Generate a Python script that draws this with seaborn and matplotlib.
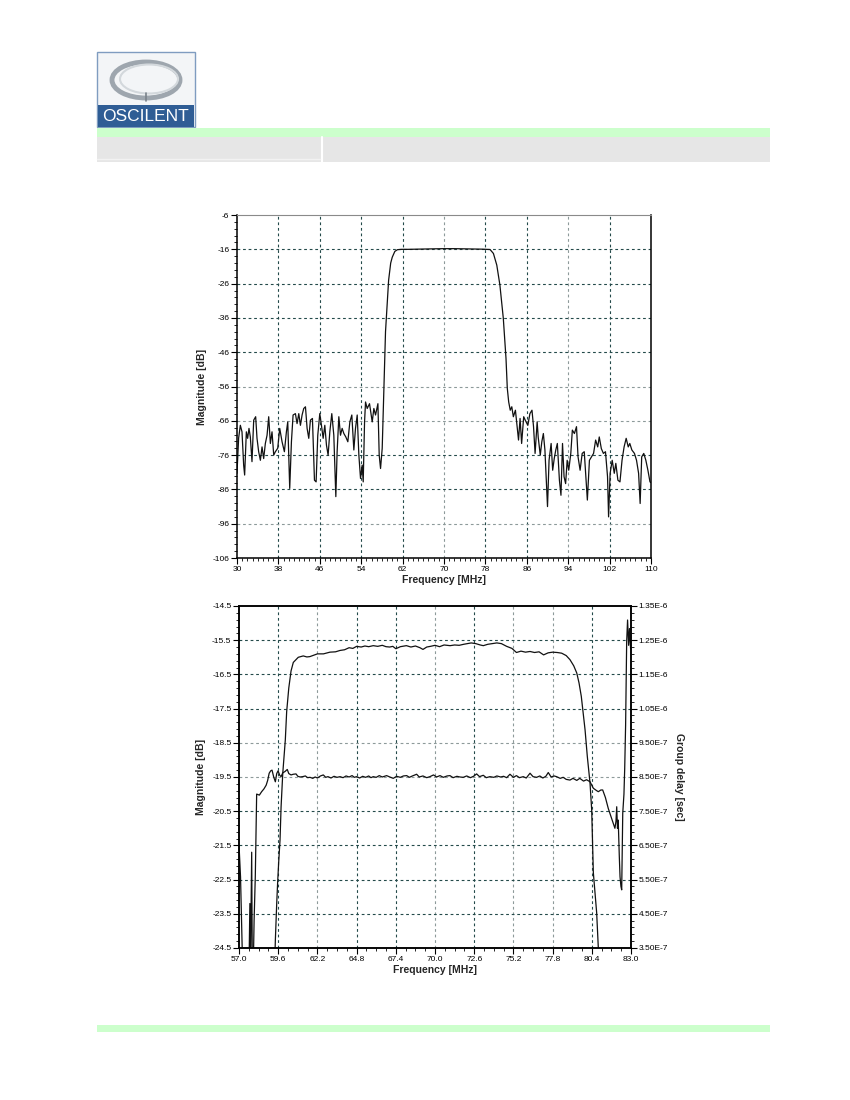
import matplotlib
matplotlib.use("Agg")
import matplotlib.pyplot as plt
import seaborn as sns
from matplotlib.patches import Rectangle, Ellipse
from matplotlib.ticker import AutoMinorLocator, FixedLocator

# ---- wideband response (upper chart) ----
wide_freq = [30.0, 30.32, 30.65, 30.97, 31.29, 31.48, 31.81, 32.06, 32.32, 32.58,
             32.9, 33.23, 33.61, 33.87, 34.19, 34.52, 34.84, 35.16, 35.48, 35.81,
             36.13, 36.45, 36.77, 37.1, 37.42, 37.87, 38.26, 38.71, 39.16, 39.55,
             39.81, 40.19, 40.52, 40.84, 41.29, 41.61, 41.94, 42.26, 42.58, 42.9,
             43.23, 43.55, 43.87, 44.19, 44.58, 44.97, 45.29, 45.61, 46.0, 46.32,
             46.65, 46.97, 47.29, 47.61, 47.94, 48.32, 48.71, 49.1, 49.35, 49.68,
             50.0, 50.32, 50.65, 51.03, 51.42, 51.81, 52.19, 52.58, 52.9, 53.23,
             53.55, 53.87, 54.19, 54.39, 54.65, 54.84, 55.16, 55.61, 56.13, 56.45,
             56.77, 57.23, 57.48, 57.74, 58.06, 58.39, 58.7, 59.3, 59.7, 60.0,
             60.5, 61.0, 61.8, 63.0, 64.5, 66.0, 68.0, 70.0, 72.0, 74.0,
             76.0, 77.5, 78.9, 79.55, 80.2, 80.8, 81.46, 81.98, 82.23, 82.5,
             82.8, 83.1, 83.4, 83.8, 84.1, 84.4, 84.7, 85.0, 85.4, 85.7,
             86.2, 86.6, 87.0, 87.3, 87.6, 88.0, 88.2, 88.6, 88.9, 89.2,
             89.5, 90.0, 90.3, 90.7, 91.0, 91.3, 91.6, 91.9, 92.3, 92.6,
             92.9, 93.2, 93.5, 93.8, 94.1, 94.5, 94.8, 95.2, 95.6, 95.9,
             96.3, 96.7, 97.1, 97.4, 97.7, 98.1, 98.5, 98.9, 99.3, 99.7,
             100.0, 100.4, 100.8, 101.2, 101.6, 101.8, 102.1, 102.5, 102.9, 103.2,
             103.6, 104.0, 104.4, 104.8, 105.2, 105.6, 105.9, 106.3, 106.8, 107.2,
             107.6, 107.9, 108.2, 108.6, 109.0, 109.4, 109.8, 110.0]
wide_mag = [-81.3, -71.0, -67.3, -69.2, -78.9, -81.8, -69.2, -71.1, -68.2, -70.7,
            -77.9, -65.8, -64.8, -71.1, -75.0, -77.5, -73.6, -77.0, -72.6, -70.2,
            -64.8, -72.6, -69.2, -76.0, -75.0, -74.0, -68.2, -72.1, -75.0, -69.2,
            -66.3, -85.7, -72.1, -64.3, -63.9, -66.8, -63.9, -67.3, -64.3, -62.4,
            -61.9, -68.2, -71.1, -65.8, -65.3, -83.3, -83.8, -70.2, -63.9, -67.3,
            -71.1, -67.3, -73.1, -76.0, -69.2, -63.9, -70.2, -88.1, -75.0, -64.8,
            -70.2, -68.2, -69.7, -70.7, -72.1, -66.3, -64.3, -74.5, -68.2, -64.3,
            -76.0, -82.8, -78.9, -83.8, -66.3, -60.5, -62.4, -61.0, -66.3, -62.4,
            -64.3, -61.0, -76.0, -79.9, -74.0, -57.0, -40.0, -25.0, -20.0, -18.3,
            -16.6, -16.1, -16.0, -16.0, -15.95, -15.9, -15.85, -15.8, -15.8, -15.85,
            -15.9, -15.95, -16.05, -17.2, -20.6, -26.4, -36.1, -47.8, -56.5, -60.5,
            -62.9, -61.9, -64.8, -62.9, -67.3, -71.6, -65.3, -72.6, -64.8, -65.8,
            -67.3, -63.9, -62.9, -67.7, -75.5, -66.3, -70.7, -76.0, -72.1, -69.7,
            -74.5, -91.0, -77.5, -72.6, -80.4, -77.0, -74.5, -72.6, -83.3, -87.7,
            -72.6, -82.3, -84.3, -77.5, -80.4, -75.5, -68.7, -69.7, -67.7, -76.5,
            -80.4, -75.5, -75.0, -82.3, -89.1, -77.5, -76.5, -75.5, -71.6, -73.6,
            -70.7, -74.1, -75.5, -75.0, -82.3, -94.0, -81.3, -77.5, -81.3, -78.4,
            -83.3, -83.8, -77.5, -73.6, -71.1, -73.6, -72.6, -74.5, -75.5, -77.5,
            -81.3, -90.1, -76.5, -75.5, -77.5, -80.4, -83.8, -84.0]
wide_xticks = [30, 38, 46, 54, 62, 70, 78, 86, 94, 102, 110]
wide_yticks = [-6, -16, -26, -36, -46, -56, -66, -76, -86, -96, -106]

# ---- passband detail (lower chart) ----
pb_freq = [57.0, 59.3, 59.41, 59.5, 59.56, 59.63, 59.72, 59.79, 59.9, 60.07,
           60.16, 60.3, 60.45, 60.6, 60.93, 61.26, 61.5, 61.7, 61.95, 62.2,
           62.6, 63.03, 63.4, 63.7, 64.0, 64.3, 64.55, 64.8, 65.1, 65.35,
           65.6, 65.9, 66.2, 66.5, 66.75, 67.0, 67.2, 67.4, 67.7, 68.1,
           68.4, 68.7, 69.0, 69.2, 69.45, 69.7, 70.0, 70.3, 70.6, 71.0,
           71.3, 71.6, 71.9, 72.15, 72.4, 72.7, 73.0, 73.2, 73.5, 73.8,
           74.1, 74.4, 74.75, 75.1, 75.4, 75.7, 76.0, 76.3, 76.6, 76.9,
           77.2, 77.5, 77.8, 78.1, 78.4, 78.7, 78.95, 79.2, 79.4, 79.55,
           79.7, 79.95, 80.1, 80.28, 80.39, 80.5, 80.72, 80.83, 80.9, 83.0]
pb_mag = [-26.0, -26.0, -24.27, -23.2, -22.6, -22.0, -21.34, -20.37, -19.4, -18.42,
          -17.59, -16.9, -16.4, -16.15, -16.0, -15.96, -15.99, -15.98, -15.94, -15.9,
          -15.9, -15.85, -15.84, -15.8, -15.78, -15.72, -15.74, -15.68, -15.7, -15.67,
          -15.69, -15.66, -15.68, -15.65, -15.69, -15.7, -15.68, -15.75, -15.69, -15.66,
          -15.7, -15.67, -15.72, -15.77, -15.7, -15.68, -15.65, -15.69, -15.64, -15.66,
          -15.64, -15.65, -15.62, -15.6, -15.58, -15.6, -15.64, -15.66, -15.62, -15.6,
          -15.58, -15.6, -15.68, -15.74, -15.86, -15.82, -15.85, -15.83, -15.86, -15.84,
          -15.93, -15.87, -15.85, -15.86, -15.88, -15.95, -16.07, -16.25, -16.46, -16.75,
          -17.14, -18.12, -18.9, -19.68, -20.46, -22.3, -23.47, -24.5, -26.0, -26.0]

gd_freq = [57.0, 57.1, 57.22, 57.3, 57.65, 57.72, 57.76, 57.84, 57.88, 57.96,
           58.0, 58.08, 58.17, 58.35, 58.5, 58.65, 58.8, 58.9, 59.0, 59.1,
           59.19, 59.3, 59.41, 59.5, 59.59, 59.7, 59.79, 59.9, 60.05, 60.2,
           60.3, 60.45, 60.6, 60.78, 60.9, 61.05, 61.22, 61.4, 61.55, 61.71,
           61.89, 62.05, 62.2, 62.4, 62.59, 62.75, 62.9, 63.1, 63.3, 63.5,
           63.7, 63.9, 64.1, 64.3, 64.5, 64.65, 64.8, 65.0, 65.2, 65.4,
           65.6, 65.75, 65.9, 66.1, 66.3, 66.5, 66.79, 67.0, 67.23, 67.45,
           67.7, 67.9, 68.12, 68.3, 68.5, 68.78, 68.95, 69.2, 69.45, 69.66,
           69.9, 70.1, 70.33, 70.55, 70.8, 70.99, 71.2, 71.45, 71.65, 71.87,
           72.1, 72.35, 72.55, 72.76, 72.95, 73.2, 73.4, 73.64, 73.9, 74.1,
           74.35, 74.55, 74.75, 74.97, 75.2, 75.4, 75.6, 75.85, 76.05, 76.3,
           76.5, 76.74, 76.95, 77.15, 77.35, 77.51, 77.7, 77.9, 78.06, 78.3,
           78.5, 78.7, 78.95, 79.15, 79.4, 79.6, 79.85, 80.05, 80.28, 80.5,
           80.72, 80.83, 81.0, 81.12, 81.3, 81.49, 81.7, 81.93, 82.0, 82.05,
           82.1, 82.15, 82.22, 82.27, 82.33, 82.38, 82.45, 82.53, 82.58, 82.64,
           82.71, 82.77, 82.8, 82.84, 82.9, 82.97, 83.0]
gd_ns = [651, 558, 330, 250, 250, 480, 300, 630, 300, 330,
         430, 560, 800, 797, 807, 815, 826, 840, 861, 868,
         870, 850, 836, 860, 868, 855, 851, 862, 866, 872,
         860, 856, 858, 859, 852, 850, 851, 853, 848, 849,
         846, 850, 847, 853, 856, 849, 851, 847, 852, 849,
         851, 848, 853, 850, 854, 849, 851, 847, 852, 849,
         853, 848, 851, 849, 854, 850, 854, 850, 846, 852,
         849, 853, 854, 849, 853, 858, 850, 853, 848, 851,
         856, 850, 854, 849, 853, 854, 848, 852, 850, 849,
         853, 848, 852, 859, 851, 855, 848, 851, 849, 853,
         850, 852, 848, 858, 849, 854, 848, 851, 847, 861,
         851, 849, 853, 847, 852, 863, 850, 853, 851, 846,
         849, 843, 841, 846, 840, 846, 838, 842, 836, 817,
         810, 807, 812, 812, 790, 758, 730, 700, 720, 763,
         700, 724, 620, 558, 530, 520, 744, 800, 875, 1002,
         1246, 1309, 1280, 1235, 1284, 1225, 1230]

pb_xticks = [57.0, 59.6, 62.2, 64.8, 67.4, 70.0, 72.6, 75.2, 77.8, 80.4, 83.0]
pb_xlabels = ["57.0", "59.6", "62.2", "64.8", "67.4", "70.0", "72.6", "75.2", "77.8", "80.4", "83.0"]
pb_yticks = [-14.5, -15.5, -16.5, -17.5, -18.5, -19.5, -20.5, -21.5, -22.5, -23.5, -24.5]
gd_ticks = [1.35e-6, 1.25e-6, 1.15e-6, 1.05e-6, 9.5e-7, 8.5e-7, 7.5e-7, 6.5e-7, 5.5e-7, 4.5e-7, 3.5e-7]
gd_labels = ["1.35E-6", "1.25E-6", "1.15E-6", "1.05E-6", "9.50E-7", "8.50E-7",
             "7.50E-7", "6.50E-7", "5.50E-7", "4.50E-7", "3.50E-7"]

DARK = "#244a4a"
LIGHT = "#8d9a9a"
LINE = "#111111"

sns.set_style("ticks")
plt.rcParams["font.family"] = ["Liberation Sans", "DejaVu Sans"]
plt.rcParams["axes.unicode_minus"] = False

fig = plt.figure(figsize=(8.5, 11), dpi=100)

# page decoration in pixel coordinates
bg = fig.add_axes([0, 0, 1, 1], zorder=-10)
bg.set_xlim(0, 850)
bg.set_ylim(1100, 0)
bg.axis("off")
bg.add_patch(Rectangle((97, 52), 98, 75, fc="#f3f5f7", ec="#7f9cc0", lw=1))
bg.add_patch(Rectangle((98, 105), 96, 21.5, fc="#2f5d95", ec="none"))
bg.text(146, 116.5, "OSCILENT", color="white", fontsize=12.5, ha="center", va="center",
        family=["Liberation Sans Narrow", "Liberation Sans"])
bg.add_patch(Ellipse((146, 80), 68, 36, fill=False, ec="#9ea6ae", lw=3.5))
bg.add_patch(Ellipse((149, 79), 58, 29, fill=False, ec="#d3d8dc", lw=1.5))
bg.plot([146, 146], [93, 101], color="#7a828a", lw=1.2)
bg.add_patch(Rectangle((97, 128), 673, 9, fc="#ccffcc", ec="none"))
bg.add_patch(Rectangle((97, 137), 673, 25, fc="#e6e6e6", ec="none"))
bg.plot([322.5, 322.5], [137, 162], color="white", lw=1.5)
bg.plot([97, 320], [159, 159], color="#f2f2f2", lw=1)
bg.add_patch(Rectangle((97, 1025), 673, 7, fc="#ccffcc", ec="none"))


def style_grid(ax, xpattern, ypattern):
    ax.grid(True, which="major", linestyle=(0, (2.5, 2.5)), linewidth=0.8)
    for line, kind in zip(ax.get_xgridlines(), xpattern):
        line.set_color(DARK if kind == "d" else LIGHT)
        line.set_visible(kind != "-")
    for line, kind in zip(ax.get_ygridlines(), ypattern):
        line.set_color(DARK if kind == "d" else LIGHT)
        line.set_visible(kind != "-")


def style_ticks(ax):
    ax.tick_params(which="major", direction="out", length=4, width=0.8,
                   labelsize=6, pad=1.5, colors="black")
    ax.tick_params(which="minor", direction="out", length=2.2, width=0.7)


label_font = dict(fontsize=7.5, fontweight="bold")

# ---- upper chart ----
ax1 = fig.add_axes([0.2788, 0.4927, 0.4871, 0.3118])
sns.lineplot(x=wide_freq, y=wide_mag, ax=ax1, color=LINE, linewidth=0.9,
             sort=False, estimator=None)
ax1.set_xlim(30, 110)
ax1.set_ylim(-106, -6)
ax1.xaxis.set_major_locator(FixedLocator(wide_xticks))
ax1.yaxis.set_major_locator(FixedLocator(wide_yticks))
ax1.set_xticklabels([str(v) for v in wide_xticks])
ax1.set_yticklabels([str(v) for v in wide_yticks])
ax1.xaxis.set_minor_locator(AutoMinorLocator(8))
ax1.yaxis.set_minor_locator(AutoMinorLocator(5))
style_ticks(ax1)
style_grid(ax1, "-ddddlddld-", "-ddddllddl-")
ax1.set_xlabel("Frequency [MHz]", labelpad=2, **label_font)
ax1.set_ylabel("Magnitude [dB]", labelpad=4, **label_font)
for side in ["left", "bottom", "right"]:
    ax1.spines[side].set_color("black")
    ax1.spines[side].set_linewidth(1.1)
ax1.spines["top"].set_visible(True)
ax1.spines["top"].set_color("#8a8a8a")
ax1.spines["top"].set_linewidth(0.8)

# ---- lower chart ----
ax2 = fig.add_axes([0.2812, 0.1382, 0.4612, 0.3109])
sns.lineplot(x=pb_freq, y=pb_mag, ax=ax2, color=LINE, linewidth=0.9,
             sort=False, estimator=None)
ax2.set_xlim(57.0, 83.0)
ax2.set_ylim(-24.5, -14.5)
ax2.xaxis.set_major_locator(FixedLocator(pb_xticks))
ax2.yaxis.set_major_locator(FixedLocator(pb_yticks))
ax2.set_xticklabels(pb_xlabels)
ax2.set_yticklabels([f"{v:.1f}" for v in pb_yticks])
ax2.xaxis.set_minor_locator(AutoMinorLocator(4))
ax2.yaxis.set_minor_locator(AutoMinorLocator(5))
style_ticks(ax2)
style_grid(ax2, "-dlddldlld-", "-dddlldddd-")
ax2.set_xlabel("Frequency [MHz]", labelpad=2, **label_font)
ax2.set_ylabel("Magnitude [dB]", labelpad=4, **label_font)

ax3 = ax2.twinx()
gd_sec = [v * 1e-9 for v in gd_ns]
sns.lineplot(x=gd_freq, y=gd_sec, ax=ax3, color=LINE, linewidth=0.9,
             sort=False, estimator=None)
ax3.set_ylim(3.5e-7, 1.35e-6)
ax3.yaxis.set_major_locator(FixedLocator(gd_ticks))
ax3.set_yticklabels(gd_labels)
ax3.yaxis.set_minor_locator(AutoMinorLocator(5))
style_ticks(ax3)
ax3.grid(False)
ax3.set_ylabel("Group delay [sec]", rotation=270, va="bottom", labelpad=4, **label_font)
for a in (ax2, ax3):
    for side in ["left", "bottom", "right", "top"]:
        a.spines[side].set_visible(True)
        a.spines[side].set_color("black")
        a.spines[side].set_linewidth(1.1)

fig.savefig("out.png", dpi=100)
